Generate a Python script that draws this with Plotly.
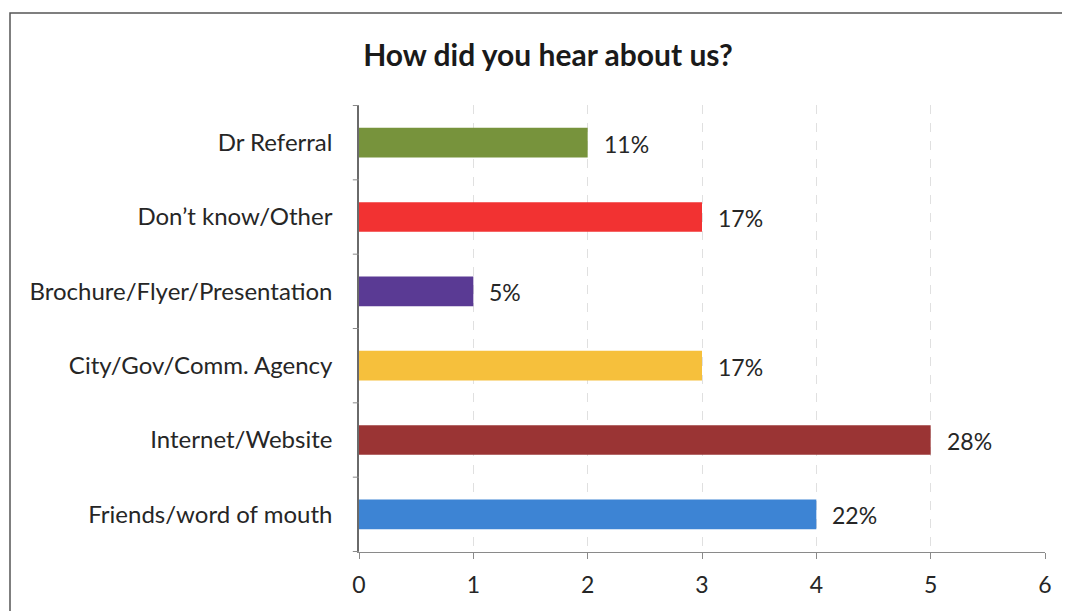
import plotly.graph_objects as go

categories = ["Friends/word of mouth", "Internet/Website", "City/Gov/Comm. Agency",
              "Brochure/Flyer/Presentation", "Don\u2019t know/Other", "Dr Referral"]
counts = [4, 5, 3, 1, 3, 2]
pct_labels = ["22%", "28%", "17%", "5%", "17%", "11%"]
colors = ["#3D84D4", "#9A3434", "#F6C03C", "#5A3A94", "#F23232", "#77933C"]
x_ticks = [0, 1, 2, 3, 4, 5, 6]

FONT = "Lato, 'Open Sans', sans-serif"
TXT = "#262626"

# page body has an 8px margin; figure sized so the plot lands where the reference has it
W, H = 1062, 603
PL, PR, PT, PB = 359, 1045, 105, 552  # plot area in window pixels
fig = go.Figure()
fig.add_trace(go.Bar(
    y=categories, x=counts, orientation="h",
    marker=dict(color=colors, line=dict(width=0)),
    width=0.4, hoverinfo="skip",
))

for cat, val, lab in zip(categories, counts, pct_labels):
    fig.add_annotation(x=val, y=cat, text=lab, showarrow=False,
                       xanchor="left", xshift=14, yshift=-1,
                       font=dict(family=FONT, size=23, color=TXT))

fig.update_layout(
    width=W, height=H,
    paper_bgcolor="white", plot_bgcolor="white",
    margin=dict(l=PL - 8, r=W - (PR - 8), t=PT - 8, b=H - (PB - 8)),
    showlegend=False,
    title=dict(text="<b>How did you hear about us?</b>", xref="container",
               x=(548 - 8) / W, xanchor="center",
               yref="container", y=1 - (55 - 8) / H, yanchor="middle",
               font=dict(family=FONT, size=30, color="#1a1a1a")),
    xaxis=dict(range=[0, 6], tickvals=x_ticks, showgrid=True,
               gridcolor="#e0e0e0", griddash="dash", gridwidth=1,
               showline=True, linecolor="#8a8a8a", linewidth=1,
               ticks="outside", ticklen=6, tickcolor="#8a8a8a",
               ticklabelstandoff=6,
               tickfont=dict(family=FONT, size=23, color=TXT),
               zeroline=False, fixedrange=True),
    yaxis=dict(showline=True, linecolor="#6a6a6a", linewidth=1.5,
               ticks="", tickfont=dict(family=FONT, size=24, color=TXT),
               ticklabelstandoff=20, showgrid=False, fixedrange=True),
)

# Category boundary tick marks on the y axis
for i in range(len(categories) + 1):
    fig.add_shape(type="line", xref="paper", yref="y",
                  x0=-0.009, x1=0, y0=i - 0.5, y1=i - 0.5,
                  line=dict(color="#8a8a8a", width=1))

# Outer border (left and top visible)
pw = PR - PL
ph = PB - PT
fig.add_shape(type="rect", xref="paper", yref="paper",
              x0=(10 - PL) / pw, x1=1.2, y0=-0.3, y1=(PB - 13) / ph,
              line=dict(color="#555555", width=1.5), layer="below")

fig.write_html("out.html")
